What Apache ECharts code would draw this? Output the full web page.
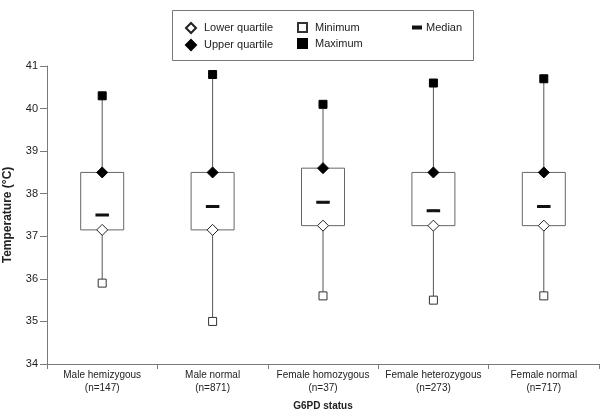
<!DOCTYPE html>
<html>
<head>
<meta charset="utf-8">
<script src="https://cdn.jsdelivr.net/npm/echarts@6/dist/echarts.min.js"></script>
<style>
  html, body { margin: 0; padding: 0; background: #fff; }
  #chart { width: 600px; height: 414px; }
</style>
</head>
<body>
<div id="chart"></div>
<script>
// categories and box values (temperature, °C)
var categories = [
  'Male hemizygous\n(n=147)',
  'Male normal\n(n=871)',
  'Female homozygous\n(n=37)',
  'Female heterozygous\n(n=273)',
  'Female normal\n(n=717)'
]
var minimum = [35.9, 35.0, 35.6, 35.5, 35.6]
var lowerQuartile = [37.15, 37.15, 37.25, 37.25, 37.25]
var median = [37.5, 37.7, 37.8, 37.6, 37.7]
var upperQuartile = [38.5, 38.5, 38.6, 38.5, 38.5]
var maximum = [40.3, 40.8, 40.1, 40.6, 40.7]
var yTicks = [34, 35, 36, 37, 38, 39, 40, 41]

// 颜色
var axisColor = '#7a7a7a'
var lineColor = '#555555'
var textColor = '#222222'
var fontFamily = 'Liberation Sans, Arial, sans-serif'

var chart = echarts.init(document.getElementById('chart'))

var boxData = categories.map(function (c, i) {
  return [i, minimum[i], lowerQuartile[i], median[i], upperQuartile[i], maximum[i]]
})

function renderBox(params, api) {
  var x = api.value(0)
  var pMin = api.coord([x, api.value(1)])
  var pLow = api.coord([x, api.value(2)])
  var pUp = api.coord([x, api.value(4)])
  var pMax = api.coord([x, api.value(5)])
  var halfW = 21.5
  var style = { stroke: lineColor, lineWidth: 1, fill: null }
  return {
    type: 'group',
    children: [
      { type: 'line', shape: { x1: pMax[0], y1: pMax[1], x2: pUp[0], y2: pUp[1] }, style: style },
      { type: 'line', shape: { x1: pLow[0], y1: pLow[1], x2: pMin[0], y2: pMin[1] }, style: style },
      {
        type: 'rect',
        shape: { x: pUp[0] - halfW, y: pUp[1], width: halfW * 2, height: pLow[1] - pUp[1] },
        style: { stroke: '#666', lineWidth: 1, fill: '#fff' }
      }
    ]
  }
}

function markerSeries(name, values, symbol, size, fill, border) {
  return {
    name: name,
    type: 'scatter',
    data: values,
    symbol: symbol,
    symbolSize: size,
    z: 5,
    itemStyle: { color: fill, borderColor: border, borderWidth: 1, opacity: 1 },
    emphasis: { disabled: true }
  }
}

var legendText = { color: textColor, fontSize: 11, fontFamily: fontFamily, padding: [0, 0, 0, 3] }

chart.setOption({
  animation: false,
  textStyle: { fontFamily: fontFamily },
  graphic: [{
    type: 'rect',
    shape: { x: 172.5, y: 10.5, width: 301, height: 50 },
    style: { fill: null, stroke: '#777', lineWidth: 1 }
  }],
  legend: [
    {
      data: ['Lower quartile', 'Upper quartile'],
      orient: 'vertical', left: 180, top: 17,
      itemWidth: 10, itemHeight: 10, itemGap: 5,
      textStyle: legendText
    },
    {
      data: ['Minimum', 'Maximum'],
      orient: 'vertical', left: 292, top: 17,
      itemWidth: 9, itemHeight: 9, itemGap: 5,
      textStyle: legendText
    },
    {
      data: ['Median'],
      orient: 'vertical', left: 407, top: 17,
      itemWidth: 8, itemHeight: 2,
      textStyle: { color: textColor, fontSize: 11, fontFamily: fontFamily, padding: [0, 0, 0, 0] }
    }
  ],
  grid: { left: 47, right: 1, top: 66, bottom: 50, outerBoundsMode: 'none' },
  xAxis: {
    type: 'category',
    data: categories,
    name: 'G6PD status',
    nameLocation: 'middle',
    nameGap: 37,
    nameTextStyle: { color: textColor, fontSize: 10, fontWeight: 'bold' },
    axisLine: { lineStyle: { color: axisColor } },
    axisTick: { show: true, length: 5, lineStyle: { color: axisColor } },
    axisLabel: { interval: 0, color: textColor, fontSize: 10, lineHeight: 13, margin: 5 },
    splitLine: { show: false }
  },
  yAxis: {
    type: 'value',
    min: yTicks[0],
    max: yTicks[yTicks.length - 1],
    interval: 1,
    name: 'Temperature (°C)',
    nameLocation: 'middle',
    nameGap: 33,
    nameTextStyle: { color: textColor, fontSize: 12, fontWeight: 'bold' },
    axisLine: { show: true, lineStyle: { color: axisColor } },
    axisTick: { show: true, length: 7, lineStyle: { color: axisColor } },
    axisLabel: { color: textColor, fontSize: 11, margin: 9 },
    splitLine: { show: false }
  },
  series: [
    {
      type: 'custom',
      name: 'box',
      data: boxData,
      renderItem: renderBox,
      encode: { x: 0, y: [1, 2, 3, 4, 5] },
      z: 2,
      silent: true
    },
    markerSeries('Lower quartile', lowerQuartile, 'diamond', 11, '#fff', '#222'),
    markerSeries('Upper quartile', upperQuartile, 'diamond', 11, '#000', '#000'),
    markerSeries('Minimum', minimum, 'rect', 8, '#fff', '#333'),
    markerSeries('Maximum', maximum, 'rect', 8, '#000', '#000'),
    markerSeries('Median', median, 'rect', [9, 2], '#111', '#111')
  ]
})
</script>
</body>
</html>
